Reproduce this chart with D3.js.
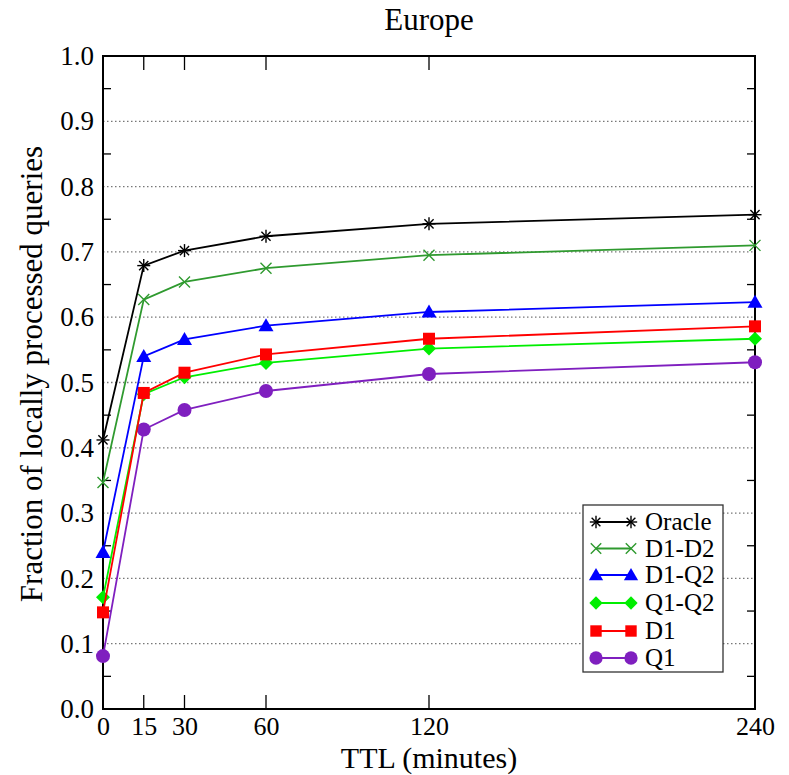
<!DOCTYPE html>
<html>
<head>
<meta charset="utf-8">
<script src="https://cdn.jsdelivr.net/npm/d3@7"></script>
<style>
  html, body { margin: 0; padding: 0; background: #fff; }
  svg { display: block; }
  svg text { font-family: "Liberation Serif", "DejaVu Serif", serif !important; fill: #000; }
</style>
</head>
<body>
<svg id="chart" width="789" height="775"></svg>
<script>
// TTL values (minutes) on the x axis
const ttl = [0, 15, 30, 60, 120, 240];
const xTickLabels = ["0", "15", "30", "60", "120", "240"];
const yTickLabels = ["0.0","0.1","0.2","0.3","0.4","0.5","0.6","0.7","0.8","0.9","1.0"];

// Fraction of locally processed queries per strategy
const seriesNames = ["Oracle", "D1-D2", "D1-Q2", "Q1-Q2", "D1", "Q1"];
const oracle = [0.412, 0.679, 0.702, 0.724, 0.743, 0.757];
const d1d2   = [0.347, 0.627, 0.654, 0.675, 0.695, 0.710];
const d1q2   = [0.240, 0.540, 0.566, 0.587, 0.608, 0.623];
const q1q2   = [0.171, 0.482, 0.508, 0.530, 0.552, 0.567];
const d1     = [0.148, 0.484, 0.515, 0.543, 0.567, 0.586];
const q1     = [0.081, 0.428, 0.458, 0.487, 0.513, 0.531];

const seriesValues = [oracle, d1d2, d1q2, q1q2, d1, q1];
const colors = ["#000000", "#2f9a2f", "#0000ff", "#00ee00", "#ff0000", "#7f1fbf"];
const markers = ["asterisk", "cross", "triangle", "diamond", "square", "circle"];

const svg = d3.select("#chart");
const L = 103, R = 755, T = 56, B = 709;

const x = d3.scaleLinear().domain([0, 240]).range([L, R]);
const y = d3.scaleLinear().domain([0, 1]).range([B, T]);

// dotted horizontal grid
const gridVals = d3.range(1, 10).map(d => d / 10);
svg.append("g").selectAll("line").data(gridVals).join("line")
  .attr("x1", L).attr("x2", R)
  .attr("y1", d => y(d)).attr("y2", d => y(d))
  .attr("stroke", "#777").attr("stroke-width", 1.3)
  .attr("stroke-dasharray", "1.5,2.5");

// left axis labels
const yAxis = d3.axisLeft(y).tickValues(d3.range(0, 11).map(d => d / 10))
  .tickFormat((d, i) => yTickLabels[i]).tickSize(0).tickPadding(9);
const gy = svg.append("g").attr("transform", `translate(${L},0)`).call(yAxis);
gy.select(".domain").remove();
gy.attr("font-size", 27);

// bottom axis labels
const xAxis = d3.axisBottom(x).tickValues(ttl)
  .tickFormat((d, i) => xTickLabels[i]).tickSize(0).tickPadding(8);
const gx = svg.append("g").attr("transform", `translate(0,${B})`).call(xAxis);
gx.select(".domain").remove();
gx.attr("font-size", 26);

// inward tick marks on all four sides
const ticks = svg.append("g").attr("stroke", "#000").attr("stroke-width", 1.3);
const innerX = [15, 30, 60, 120];
innerX.forEach(v => {
  ticks.append("line").attr("x1", x(v)).attr("x2", x(v)).attr("y1", B).attr("y2", B - 14);
  ticks.append("line").attr("x1", x(v)).attr("x2", x(v)).attr("y1", T).attr("y2", T + 14);
});
const minorY = d3.range(0, 10).map(d => d / 10 + 0.05);
minorY.forEach(v => {
  ticks.append("line").attr("x1", L).attr("x2", L + 8).attr("y1", y(v)).attr("y2", y(v));
  ticks.append("line").attr("x1", R).attr("x2", R - 8).attr("y1", y(v)).attr("y2", y(v));
});

// plot frame
svg.append("rect").attr("x", L).attr("y", T).attr("width", R - L).attr("height", B - T)
  .attr("fill", "none").attr("stroke", "#000").attr("stroke-width", 2);

// marker drawing
function drawMarker(g, type, cx, cy, color, scale) {
  const s = scale || 1;
  if (type === "asterisk") {
    const r = 6.5 * s;
    for (let k = 0; k < 4; k++) {
      const a = k * Math.PI / 4;
      g.append("line")
        .attr("x1", cx - r * Math.cos(a)).attr("y1", cy - r * Math.sin(a))
        .attr("x2", cx + r * Math.cos(a)).attr("y2", cy + r * Math.sin(a))
        .attr("stroke", color).attr("stroke-width", 1.4);
    }
  } else if (type === "cross") {
    const r = 5.5 * s;
    g.append("path")
      .attr("d", `M${cx - r},${cy - r}L${cx + r},${cy + r}M${cx - r},${cy + r}L${cx + r},${cy - r}`)
      .attr("stroke", color).attr("stroke-width", 1.4).attr("fill", "none");
  } else if (type === "triangle") {
    const r = 7.5 * s;
    g.append("path")
      .attr("d", `M${cx},${cy - r}L${cx + r},${cy + r * 0.75}L${cx - r},${cy + r * 0.75}Z`)
      .attr("fill", color);
  } else if (type === "diamond") {
    const r = 7 * s;
    g.append("path")
      .attr("d", `M${cx},${cy - r}L${cx + r},${cy}L${cx},${cy + r}L${cx - r},${cy}Z`)
      .attr("fill", color);
  } else if (type === "square") {
    const r = 6 * s;
    g.append("rect").attr("x", cx - r).attr("y", cy - r).attr("width", 2 * r).attr("height", 2 * r)
      .attr("fill", color);
  } else if (type === "circle") {
    g.append("circle").attr("cx", cx).attr("cy", cy).attr("r", 7 * s).attr("fill", color);
  }
}

// series lines and markers (drawn bottom-up so Oracle ends on top)
const line = d3.line().x((d, i) => x(ttl[i])).y(d => y(d));
const order = [5, 3, 4, 2, 1, 0];
order.forEach(si => {
  const g = svg.append("g");
  g.append("path").datum(seriesValues[si]).attr("d", line)
    .attr("fill", "none").attr("stroke", colors[si]).attr("stroke-width", 1.8);
  seriesValues[si].forEach((v, i) => drawMarker(g, markers[si], x(ttl[i]), y(v), colors[si]));
});

// legend
const lg = svg.append("g");
lg.append("rect").attr("x", 583).attr("y", 505).attr("width", 140).attr("height", 167)
  .attr("fill", "#fff").attr("stroke", "#333").attr("stroke-width", 1.3);
const legendY = [522, 548.5, 575, 603, 631, 658];
seriesNames.forEach((name, i) => {
  const ly = legendY[i];
  lg.append("line").attr("x1", 596).attr("x2", 631).attr("y1", ly).attr("y2", ly)
    .attr("stroke", colors[i]).attr("stroke-width", 1.8);
  drawMarker(lg, markers[i], 596, ly, colors[i], 0.95);
  drawMarker(lg, markers[i], 631, ly, colors[i], 0.95);
  lg.append("text").attr("x", 645).attr("y", ly + 8).attr("font-size", 25).text(name);
});

// titles
svg.append("text").attr("x", (L + R) / 2).attr("y", 30).attr("text-anchor", "middle")
  .attr("font-size", 31).text("Europe");
svg.append("text").attr("x", (L + R) / 2).attr("y", 768).attr("text-anchor", "middle")
  .attr("font-size", 30).text("TTL (minutes)");
svg.append("text")
  .attr("transform", `translate(42,374) rotate(-90)`)
  .attr("text-anchor", "middle").attr("font-size", 31)
  .text("Fraction of locally processed queries");
</script>
</body>
</html>
